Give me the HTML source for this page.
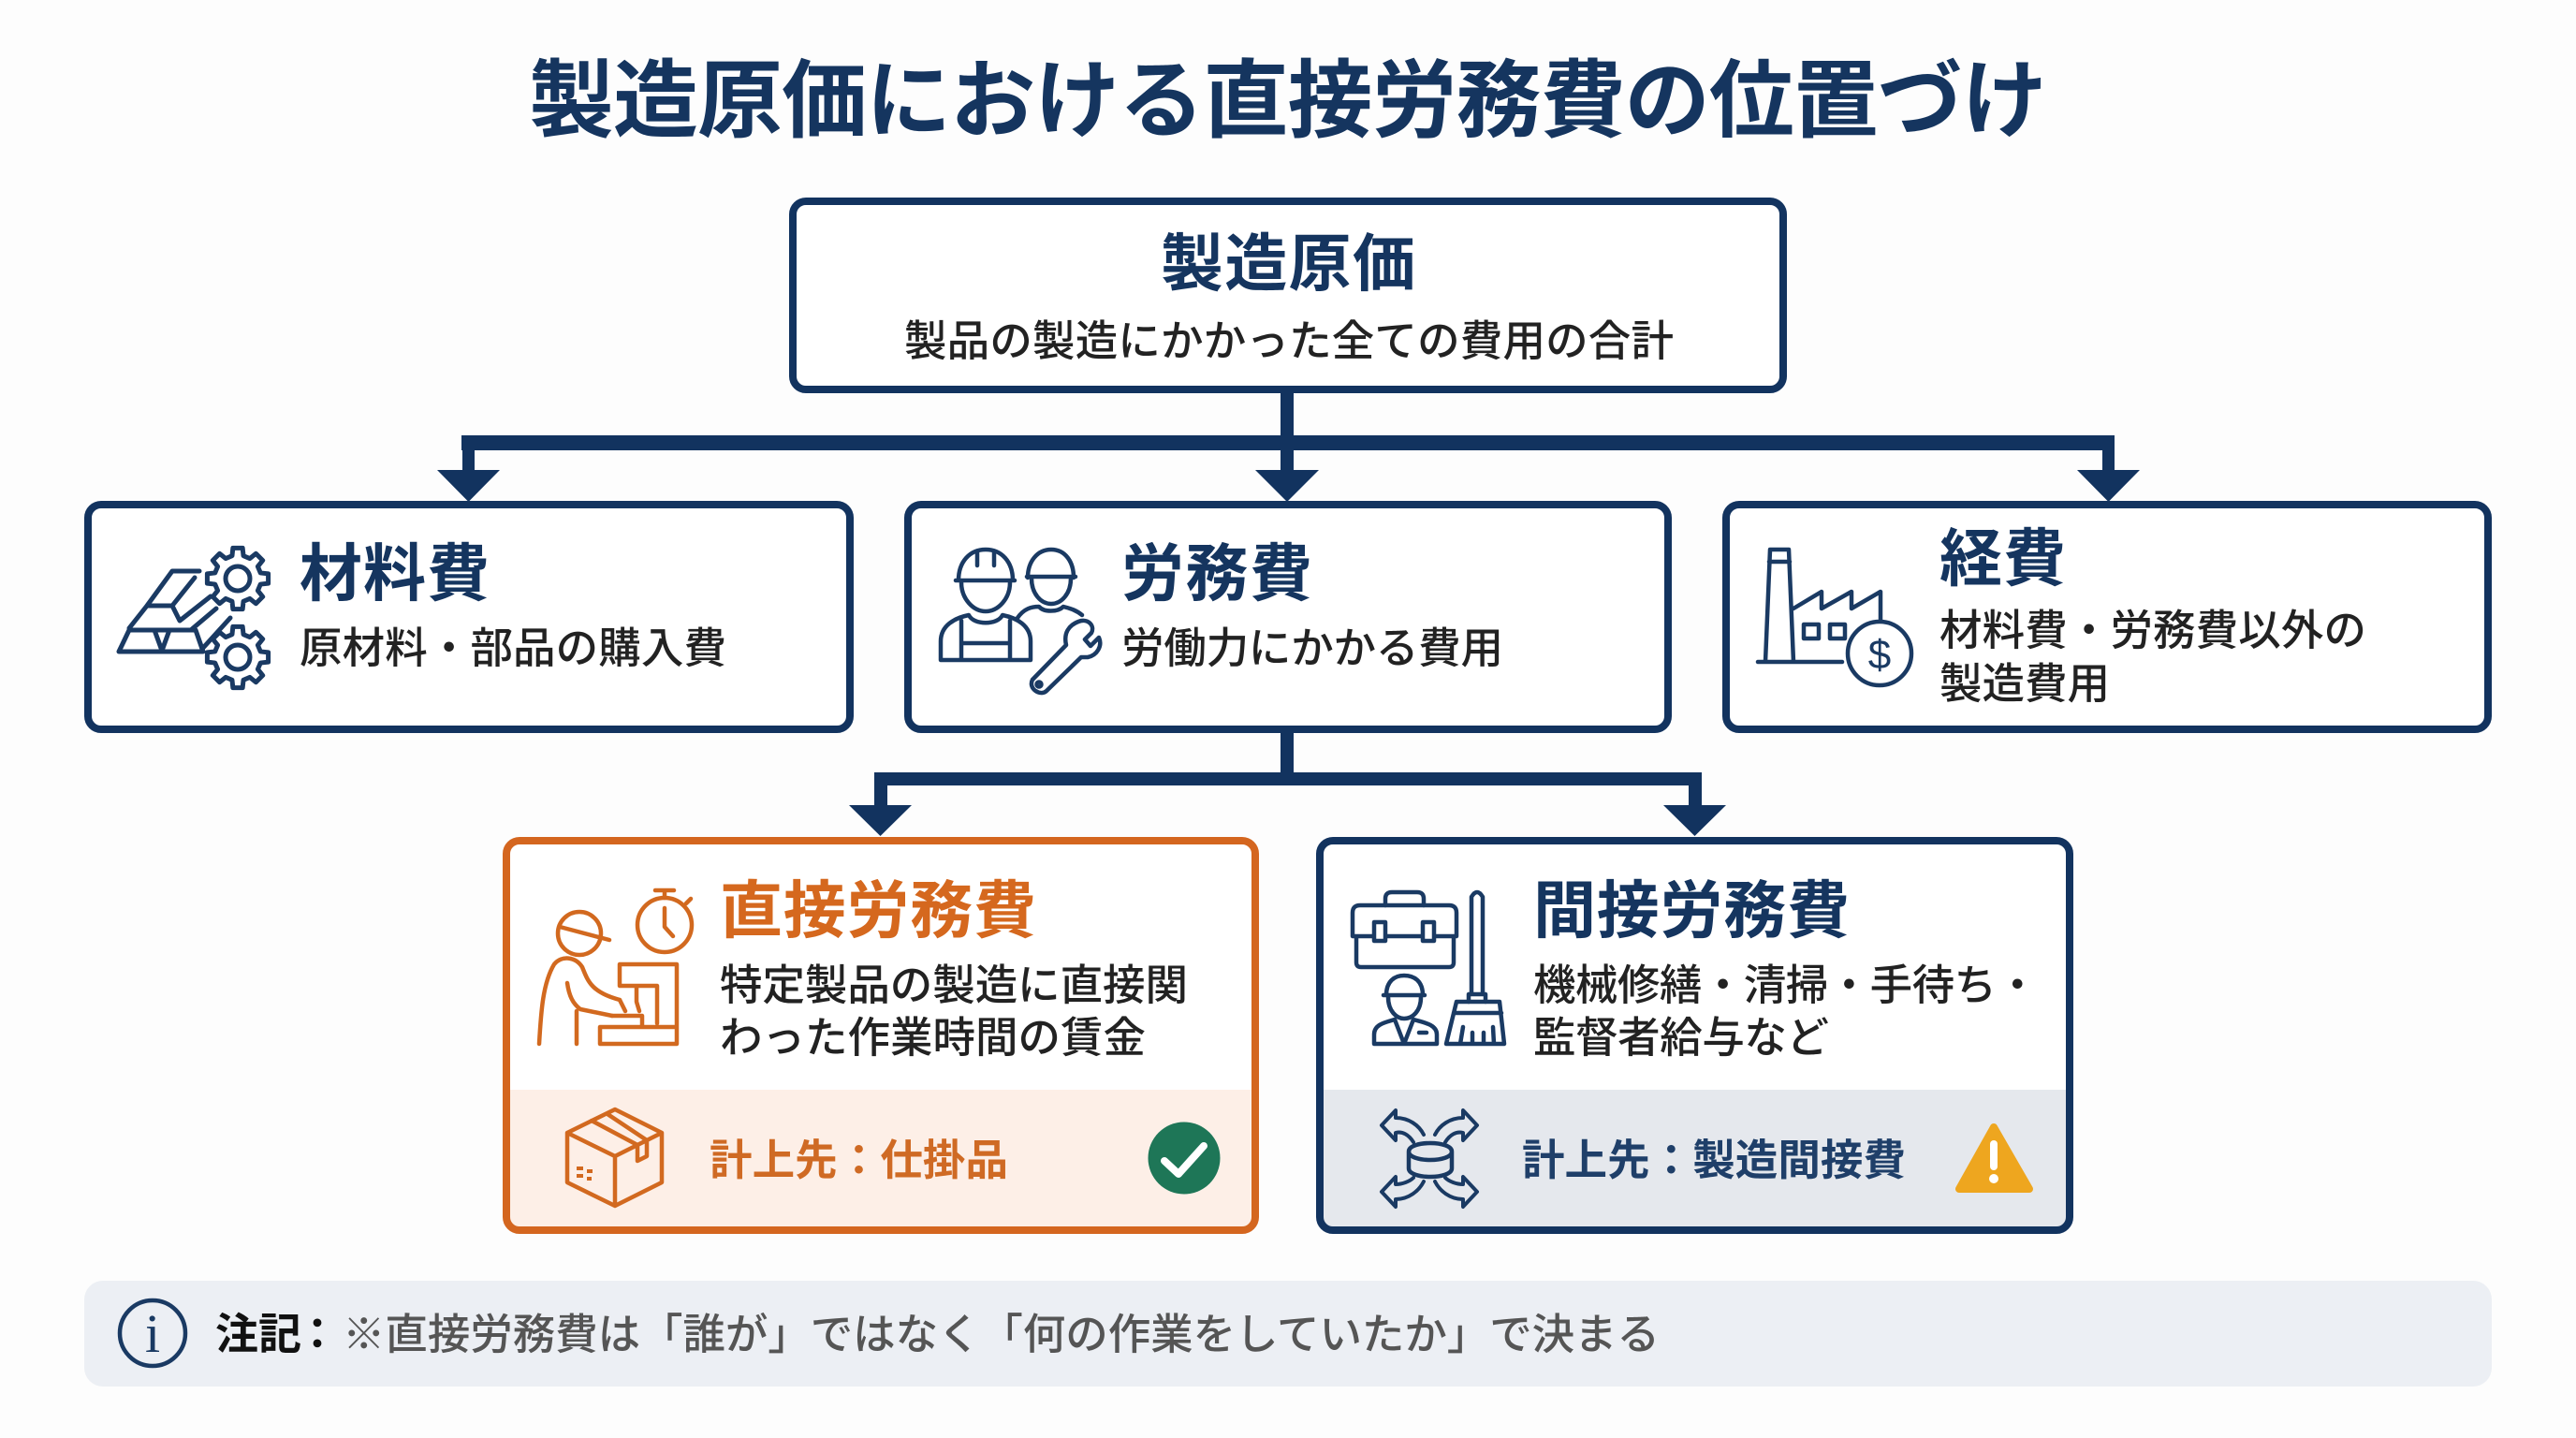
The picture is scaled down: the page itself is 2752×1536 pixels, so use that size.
<!DOCTYPE html>
<html lang="ja"><head><meta charset="utf-8"><title>製造原価における直接労務費の位置づけ</title>
<style>
html,body{margin:0;padding:0;background:#fdfdfd}
svg{display:block}
text{font-family:"Liberation Sans","Noto Sans CJK JP",sans-serif}
.h{font-weight:700;font-size:67px;fill:#15355f}
.s{font-weight:500;font-size:45.5px;fill:#222}
.n{fill:none;stroke:#1a3a63;stroke-width:4.5;stroke-linejoin:round;stroke-linecap:round}
.o{fill:none;stroke:#d2691f;stroke-width:4.5;stroke-linejoin:round;stroke-linecap:round}
</style></head><body>
<svg width="2752" height="1536" viewBox="0 0 2752 1536" xmlns="http://www.w3.org/2000/svg">
<rect width="2752" height="1536" fill="#fdfdfd"/>
<text x="565" y="139" font-size="91" font-weight="700" fill="#15355f" textLength="1622">製造原価における直接労務費の位置づけ</text>

<!-- connectors -->
<g fill="#12335f">
<rect x="1368" y="420" width="14" height="60"/>
<rect x="493" y="465" width="1766" height="16"/>
<rect x="494" y="470" width="13" height="40"/><rect x="1368" y="470" width="14" height="40"/><rect x="2246" y="470" width="13" height="40"/>
<polygon points="467,502 534,502 500.500,536"/><polygon points="1341,502 1409,502 1375,536"/><polygon points="2219,502 2286,502 2252.500,536"/>
<rect x="1368" y="780" width="14" height="52"/>
<rect x="934" y="825" width="884" height="14"/>
<rect x="934" y="830" width="14" height="35"/><rect x="1804" y="830" width="14" height="35"/>
<polygon points="907,860 974,860 940.500,893"/><polygon points="1777,860 1844,860 1810.500,893"/>
</g>

<!-- boxes -->
<g fill="#fff" stroke="#12335f" stroke-width="8">
<rect x="847" y="215" width="1058" height="201" rx="14"/>
<rect x="94" y="539" width="814" height="240" rx="14"/>
<rect x="970" y="539" width="812" height="240" rx="14"/>
<rect x="1844" y="539" width="814" height="240" rx="14"/>
</g>
<rect x="541" y="898" width="800" height="416" rx="14" fill="#fff"/>
<path d="M539 1164H1343V1300a16 16 0 0 1-16 16H555a16 16 0 0 1-16-16Z" fill="#fdefe7"/>
<rect x="541" y="898" width="800" height="416" rx="14" fill="none" stroke="#d4661f" stroke-width="8"/>
<rect x="1410" y="898" width="801" height="416" rx="14" fill="#fff"/>
<path d="M1408 1164H2213V1300a16 16 0 0 1-16 16H1424a16 16 0 0 1-16-16Z" fill="#e5e8ed"/>
<rect x="1410" y="898" width="801" height="416" rx="14" fill="none" stroke="#12335f" stroke-width="8"/>

<!-- text -->
<text class="h" x="1240" y="305" textLength="272">製造原価</text>
<text class="s" x="966" y="380" textLength="822">製品の製造にかかった全ての費用の合計</text>
<text class="h" x="320" y="636" textLength="203">材料費</text>
<text class="s" x="320" y="708" textLength="456">原材料・部品の購入費</text>
<text class="h" x="1198" y="636" textLength="204">労務費</text>
<text class="s" x="1198" y="708" textLength="408">労働力にかかる費用</text>
<text class="h" x="2072" y="620" textLength="135">経費</text>
<text class="s" x="2072" y="689" textLength="456">材料費・労務費以外の</text>
<text class="s" x="2072" y="746" textLength="182">製造費用</text>
<text class="h" x="769" y="996" textLength="338" style="fill:#d5681e">直接労務費</text>
<text class="s" x="769" y="1068" textLength="500">特定製品の製造に直接関</text>
<text class="s" x="769" y="1124" textLength="455">わった作業時間の賃金</text>
<text x="758" y="1255" font-size="45.500" font-weight="700" fill="#cf6a24" textLength="319">計上先：仕掛品</text>
<text class="h" x="1638" y="996" textLength="338">間接労務費</text>
<text class="s" x="1638" y="1068" textLength="540">機械修繕・清掃・手待ち・</text>
<text class="s" x="1638" y="1124" textLength="316">監督者給与など</text>
<text x="1626" y="1255" font-size="45.500" font-weight="700" fill="#1f3f69" textLength="410">計上先：製造間接費</text>

<!-- note -->
<rect x="90" y="1368" width="2572" height="113" rx="20" fill="#eceff4"/>
<circle cx="163" cy="1424" r="35" fill="none" stroke="#1a3a63" stroke-width="4.500"/>
<text x="163" y="1444" font-size="58" text-anchor="middle" fill="#1a3a63" style="font-family:'Liberation Serif',serif">i</text>
<text x="230" y="1441" font-size="46" font-weight="700" fill="#111">注記</text>
<text x="316" y="1441" font-size="46" font-weight="700" fill="#111">：</text>
<text x="366" y="1441" font-size="45.500" font-weight="500" fill="#555" textLength="1407">※直接労務費は「誰が」ではなく「何の作業をしていたか」で決まる</text>

<!-- gear + gold -->
<defs><g id="gear"><polygon points="24.26,-6.05 32.59,-5.16 32.59,5.16 24.26,6.05 21.43,12.88 26.7,19.4 19.4,26.7 12.88,21.43 6.05,24.26 5.16,32.59 -5.16,32.59 -6.05,24.26 -12.88,21.43 -19.4,26.7 -26.7,19.4 -21.43,12.88 -24.26,6.05 -32.59,5.16 -32.59,-5.16 -24.26,-6.05 -21.43,-12.88 -26.7,-19.4 -19.4,-26.7 -12.88,-21.43 -6.05,-24.26 -5.16,-32.59 5.16,-32.59 6.05,-24.26 12.88,-21.43 19.4,-26.7 26.7,-19.4 21.43,-12.88" fill="#fff"/><circle r="13"/></g></defs>
<g class="n" style="stroke-width:5">
<use href="#gear" x="254" y="618"/><use href="#gear" x="254" y="702"/>
<path d="M127 696H217L209 673H138ZM173 695L165 673M173 695L181 673"/>
<path d="M213 610H184L157 647H184L192 663M157 647L138 671M184 647L208 617M192 663L225 637M205 672L231 650M217 692L246 660"/>
</g>

<!-- workers + wrench -->
<g class="n">
<path d="M1024 620C1024 600 1036 587 1053 587C1070 587 1082 600 1082 620M1021 620H1084"/>
<path d="M1044 590V604M1062 590V604"/>
<path d="M1027 622C1027 640 1040 653 1053 653C1066 653 1079 640 1079 622"/>
<path d="M1005 705V685C1005 668 1020 660 1035 657C1040 668 1066 668 1071 657C1086 660 1101 668 1101 685V705ZM1027 663V705M1079 663V705M1027 687H1079"/>
<path d="M1098 617C1098 600 1108 587 1123 587C1138 587 1147 600 1147 617M1097 616H1149"/>
<path d="M1102 618C1102 634 1112 645 1123 645C1134 645 1144 634 1144 618"/>
<path d="M1087 660C1094 650 1102 648 1110 648C1115 654 1130 654 1136 648C1144 650 1150 652 1156 657"/>
<path d="M1152 664C1162 660 1170 668 1166 676L1159 683L1165 690L1174 681C1178 690 1172 700 1162 702L1155 702L1118 738C1112 744 1098 736 1103 726L1139 689C1136 676 1142 668 1152 664Z" fill="#fff"/>
<circle cx="1110" cy="731" r="2.500"/>
</g>

<!-- factory -->
<g class="n">
<path d="M1878 707H1968M1886 707L1891 587H1911L1916 707M1890 600H1912"/>
<path d="M1916 650L1946 632V650L1978 632V650L2009 632V664"/>
<rect x="1927" y="667" width="16" height="15"/><rect x="1955" y="667" width="16" height="15"/>
<circle cx="2008" cy="698" r="34" fill="#fff"/>
</g>
<text x="2008" y="714" font-size="44" text-anchor="middle" fill="#1a3a63">$</text>

<!-- direct labor icon -->
<g class="o">
<circle cx="710" cy="988" r="29"/>
<path d="M700 951H720M710 951V959M733 965L738 960M710 970V990L719 1000"/>
<circle cx="619" cy="997" r="23"/>
<path d="M598 990L651 1004"/>
<path d="M576 1115C578 1080 580 1050 592 1030C600 1020 615 1022 622 1033C628 1048 632 1060 662 1068"/>
<path d="M606 1050C608 1064 612 1072 620 1078L654 1085M616 1080V1115M662 1068L668 1080"/>
<path d="M641 1097H723V1115H641ZM662 1053V1030H723V1097M662 1053H702V1093M680 1053V1070L683 1080M654 1085H686V1096"/>
<path d="M657 1185L707 1210L657 1235L606 1210ZM606 1210V1263L657 1288L707 1263V1210M657 1235V1288M632 1197L681 1223V1240L691 1235V1218L649 1190"/>
</g>
<g fill="#d2691f"><rect x="616" y="1246" width="7" height="4"/><rect x="627" y="1249" width="6" height="4"/><rect x="616" y="1254" width="7" height="4"/><rect x="627" y="1257" width="5" height="4"/></g>
<circle cx="1265" cy="1237" r="38.500" fill="#1e7657"/>
<path d="M1244 1240L1259 1254L1286 1224" fill="none" stroke="#fff" stroke-width="8" stroke-linecap="round" stroke-linejoin="round"/>

<!-- indirect labor icon -->
<g class="n">
<path d="M1480 967V960Q1480 953 1487 953H1514Q1521 953 1521 960V967"/>
<path d="M1445 1000V975Q1445 967 1453 967H1548Q1556 967 1556 975V1000ZM1449 1000V1028Q1449 1033 1454 1033H1548Q1553 1033 1553 1028V1000"/>
<rect x="1468" y="985" width="12" height="20" fill="#fff"/><rect x="1520" y="985" width="12" height="20" fill="#fff"/>
<path d="M1572 1062V958Q1578 948 1584 958V1062M1569 1070V1062H1587V1070"/>
<path d="M1556 1070H1602L1607 1115H1545ZM1553 1082H1604M1560 1115L1563 1097M1573 1115V1103M1585 1115V1103M1596 1115L1595 1097"/>
<path d="M1481 1063C1481 1048 1490 1042 1500 1042C1511 1042 1520 1048 1520 1063M1478 1063H1522M1483 1065C1483 1080 1492 1088 1500 1088C1509 1088 1518 1080 1518 1065"/>
<path d="M1468 1115V1105C1468 1094 1480 1092 1490 1089L1500 1115L1510 1089C1520 1092 1535 1094 1535 1105V1115ZM1516 1103H1524"/>
<path d="M1505 1230C1505 1218 1551 1218 1551 1230V1248C1551 1260 1505 1260 1505 1248ZM1505 1230C1505 1242 1551 1242 1551 1230"/>
<g style="stroke:#1a3a63;stroke-width:4">
<path d="M1476 1202L1491 1186V1194C1505 1194 1516 1202 1521 1212M1476 1202L1491 1218V1210C1498 1208 1505 1212 1510 1220"/>
<path d="M1578 1202L1563 1186V1194C1549 1194 1538 1202 1533 1212M1578 1202L1563 1218V1210C1556 1208 1549 1212 1544 1220"/>
<path d="M1476 1273L1491 1257V1265C1498 1265 1506 1262 1510 1258M1476 1273L1491 1289V1281C1505 1281 1516 1272 1521 1262"/>
<path d="M1578 1273L1563 1257V1265C1556 1265 1548 1262 1544 1258M1578 1273L1563 1289V1281C1549 1281 1538 1272 1533 1262"/>
</g>
</g>
<polygon points="2130,1204 2093,1270 2168,1270" fill="#eea61f" stroke="#eea61f" stroke-width="8" stroke-linejoin="round"/>
<path d="M2130 1222V1246" stroke="#fff" stroke-width="8" stroke-linecap="round"/>
<circle cx="2130" cy="1259" r="5" fill="#fff"/>
</svg>
</body></html>
